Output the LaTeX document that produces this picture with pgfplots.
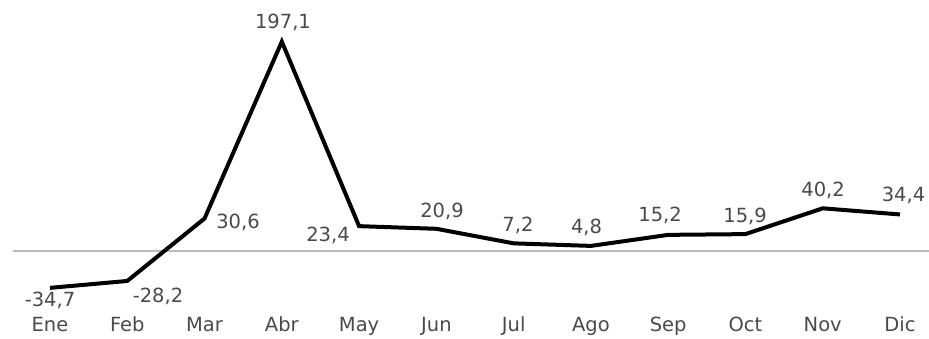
\documentclass[border=0pt]{standalone}
\usepackage{fontspec}
\setmainfont{DejaVu Sans}
\usepackage{pgfplots}
\pgfplotsset{compat=1.18}
\definecolor{txt}{HTML}{4A4A4A}
\definecolor{zero}{HTML}{BBBBBB}
\begin{document}
\begin{tikzpicture}
\begin{axis}[
  scale only axis,
  width=929pt, height=338pt,
  xmin=-0.647, xmax=11.375,
  ymin=-81.9, ymax=236.3,
  axis line style={draw=none},
  ytick=\empty,
  xtick={0,...,11},
  xticklabels={Ene,Feb,Mar,Abr,May,Jun,Jul,Ago,Sep,Oct,Nov,Dic},
  major tick length=0pt,
  xticklabel style={anchor=base, inner sep=0pt, yshift=7pt, font=\fontsize{19.5}{21}\selectfont, text=txt},
  clip=false,
]
\addplot[zero, line width=1.5pt, forget plot] coordinates {(-0.48,0) (11.375,0)};
\addplot[black, line width=4pt, line join=miter, miter limit=10] coordinates {
 (0,-34.7) (1,-28.2) (2,30.6) (3,197.1) (4,23.4) (5,20.9)
 (6,7.2) (7,4.8) (8,15.2) (9,15.9) (10,40.2) (11,34.4)};
\begin{scope}[every node/.style={font=\fontsize{19.5}{21}\selectfont, text=txt, anchor=center, inner sep=0pt}]
\node at (axis cs:0,-46.1) {-34,7};
\node at (axis cs:1.398,-42.4) {-28,2};
\node at (axis cs:2.433,27.3) {30,6};
\node at (axis cs:3.015,215.6) {197,1};
\node at (axis cs:3.598,15.1) {23,4};
\node at (axis cs:5.073,37.7) {20,9};
\node at (axis cs:6.056,24.5) {7,2};
\node at (axis cs:6.944,22.6) {4,8};
\node at (axis cs:7.895,33.9) {15,2};
\node at (axis cs:8.995,33.0) {15,9};
\node at (axis cs:10.004,57.4) {40,2};
\node at (axis cs:11.045,52.7) {34,4};
\end{scope}
\end{axis}
\pgfresetboundingbox
\useasboundingbox (0,0) rectangle (929pt,338pt);
\end{tikzpicture}
\end{document}
